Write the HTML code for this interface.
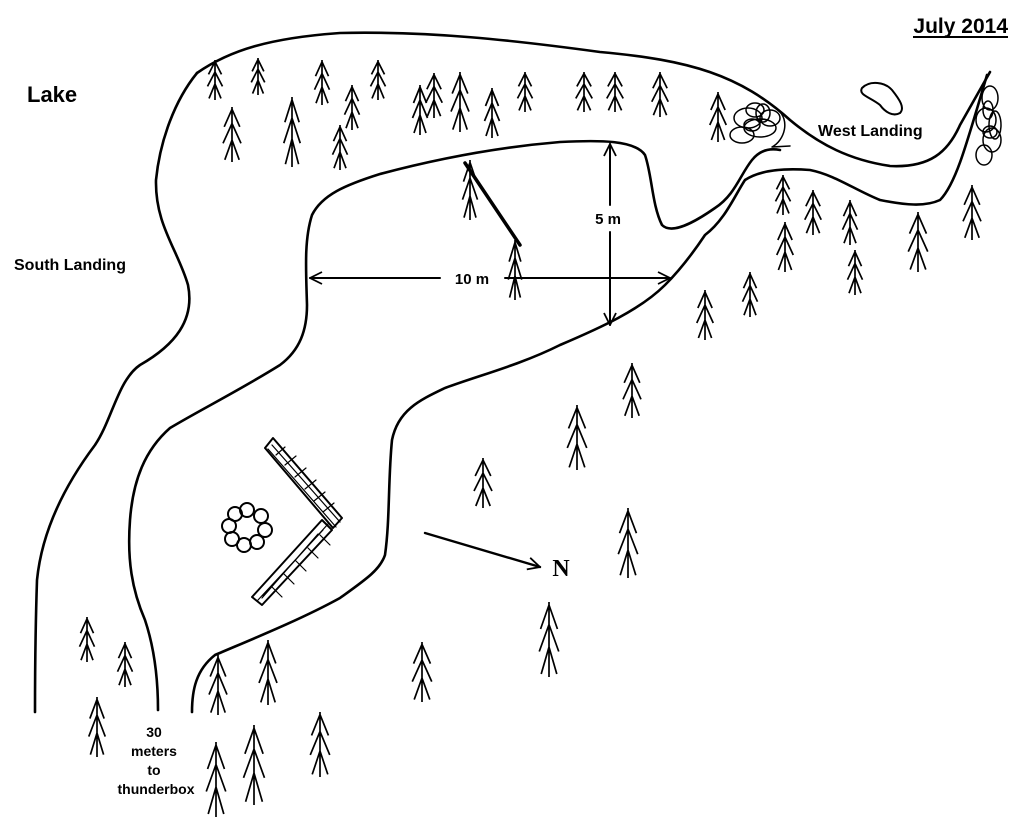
<!DOCTYPE html>
<html><head><meta charset="utf-8"><style>
html,body{margin:0;padding:0;background:#fff;}
svg{display:block}
text{font-family:"Liberation Sans",sans-serif;font-weight:bold;fill:#000}
</style></head><body>
<svg width="1024" height="826" viewBox="0 0 1024 826" xmlns="http://www.w3.org/2000/svg">
<defs>
<symbol id="t" viewBox="0 0 40 100" preserveAspectRatio="none">
<path vector-effect="non-scaling-stroke" fill="none" stroke="#000" stroke-width="1.7" d="M20 0V100M20 4L7 36M20 4L33 36M20 30L5 66M20 30L35 66M20 60L8 96M20 60L32 96"/>
</symbol>
<marker id="a" markerWidth="14" markerHeight="14" refX="13" refY="7" orient="auto" markerUnits="userSpaceOnUse"><path d="M1 1L13 7L1 13" fill="none" stroke="#000" stroke-width="1.8"/></marker>
</defs>
<g fill="none" stroke="#000" stroke-width="2.6" stroke-linecap="round" stroke-linejoin="round">
<path d="M197 73C230 50 270 38 340 33C430 31 512 40 600 52C690 60 740 75 790 120C820 145 850 160 890 166C930 168 948 152 960 125L990 72"/>
<path d="M197 73C175 100 160 140 156 180C155 225 178 250 188 285C195 320 175 345 140 365C118 380 112 420 95 445C65 485 42 530 37 580C35 640 35 680 35 712"/>
<path d="M158 710C158 680 155 650 145 620C132 590 127 560 130 520C133 480 145 450 170 428C200 410 240 390 280 365C300 350 307 330 307 305C306 270 304 240 312 215C322 195 345 185 380 174C440 158 500 147 560 142C600 140 635 140 645 155C652 175 652 205 662 225C672 235 695 222 715 208C735 195 740 175 752 160C760 150 770 148 780 150"/>
<path d="M192 712C192 690 196 670 215 655C250 640 300 620 340 598C365 580 380 570 385 555C390 520 388 480 392 440C398 410 420 400 445 388C480 375 520 365 560 345C600 328 640 310 665 285C680 270 695 250 705 235C725 220 735 195 745 180C760 170 785 168 810 170C835 175 855 190 880 200C905 205 925 207 940 200C955 185 965 150 987 75"/>
<path d="M862 88C870 80 885 82 892 90C900 100 905 108 900 113C893 117 885 112 880 105C870 97 858 95 862 88Z" stroke-width="2"/>
<g stroke-width="1.5">
<ellipse cx="748" cy="118" rx="14" ry="10"/><ellipse cx="760" cy="128" rx="16" ry="9"/><ellipse cx="742" cy="135" rx="12" ry="8"/><ellipse cx="770" cy="118" rx="10" ry="8"/><ellipse cx="755" cy="110" rx="9" ry="7"/><ellipse cx="752" cy="125" rx="8" ry="6"/><ellipse cx="763" cy="113" rx="7" ry="9"/>
<path d="M778 110C790 120 785 140 772 147L790 146"/>
<ellipse cx="990" cy="98" rx="8" ry="12"/><ellipse cx="986" cy="120" rx="10" ry="12"/><ellipse cx="992" cy="140" rx="9" ry="12"/><ellipse cx="984" cy="155" rx="8" ry="10"/><ellipse cx="995" cy="125" rx="6" ry="14"/><ellipse cx="988" cy="110" rx="5" ry="9"/><ellipse cx="990" cy="132" rx="7" ry="6"/>
</g>
<path d="M465 163L520 245" stroke-width="3.5"/>
<path d="M610 205V144" stroke-width="2" marker-end="url(#a)"/>
<path d="M610 232V325" stroke-width="2" marker-end="url(#a)"/>
<path d="M440 278H310" stroke-width="2" marker-end="url(#a)"/>
<path d="M505 278H670" stroke-width="2" marker-end="url(#a)"/>
<path d="M425 533L540 567" stroke-width="2.4" marker-end="url(#a)"/>
<g stroke-width="2">
<path d="M265 448L273 438L342 518L333 528Z"/>
<path d="M322 520L332 530L262 605L252 597Z"/>
<path d="M276 455L285 447M285 465L296 456M295 477L306 468M305 489L316 480M314 501L325 492M323 512L334 503M272 445L340 522M268 449L336 527" stroke-width="1.2"/>
<path d="M320 535L330 545M308 548L318 558M296 561L306 571M284 574L294 584M272 587L282 597M263 596L328 524M258 600L323 530M262 598L318 534" stroke-width="1.2"/>
</g>
<g stroke-width="2">
<circle cx="247" cy="510" r="7"/><circle cx="261" cy="516" r="7"/><circle cx="265" cy="530" r="7"/><circle cx="257" cy="542" r="7"/><circle cx="244" cy="545" r="7"/><circle cx="232" cy="539" r="7"/><circle cx="229" cy="526" r="7"/><circle cx="235" cy="514" r="7"/>
</g>
</g>
<g>
<use href="#t" x="205" y="60" width="20" height="40"/>
<use href="#t" x="249" y="58" width="18" height="37"/>
<use href="#t" x="312" y="60" width="20" height="45"/>
<use href="#t" x="368" y="60" width="20" height="40"/>
<use href="#t" x="342" y="85" width="20" height="45"/>
<use href="#t" x="220" y="107" width="24" height="55"/>
<use href="#t" x="281" y="97" width="22" height="70"/>
<use href="#t" x="330" y="125" width="20" height="45"/>
<use href="#t" x="410" y="85" width="20" height="50"/>
<use href="#t" x="423" y="73" width="22" height="45"/>
<use href="#t" x="448" y="72" width="24" height="60"/>
<use href="#t" x="482" y="88" width="20" height="50"/>
<use href="#t" x="515" y="72" width="20" height="40"/>
<use href="#t" x="573" y="72" width="22" height="40"/>
<use href="#t" x="604" y="72" width="22" height="40"/>
<use href="#t" x="649" y="72" width="22" height="45"/>
<use href="#t" x="707" y="92" width="22" height="50"/>
<use href="#t" x="460" y="160" width="20" height="60"/>
<use href="#t" x="506" y="240" width="18" height="60"/>
<use href="#t" x="773" y="175" width="20" height="40"/>
<use href="#t" x="802" y="190" width="22" height="45"/>
<use href="#t" x="840" y="200" width="20" height="45"/>
<use href="#t" x="774" y="222" width="22" height="50"/>
<use href="#t" x="845" y="250" width="20" height="45"/>
<use href="#t" x="905" y="212" width="26" height="60"/>
<use href="#t" x="960" y="185" width="24" height="55"/>
<use href="#t" x="740" y="272" width="20" height="45"/>
<use href="#t" x="694" y="290" width="22" height="50"/>
<use href="#t" x="620" y="363" width="24" height="55"/>
<use href="#t" x="564" y="405" width="26" height="65"/>
<use href="#t" x="471" y="458" width="24" height="50"/>
<use href="#t" x="615" y="508" width="26" height="70"/>
<use href="#t" x="536" y="602" width="26" height="75"/>
<use href="#t" x="409" y="642" width="26" height="60"/>
<use href="#t" x="77" y="617" width="20" height="45"/>
<use href="#t" x="115" y="642" width="20" height="45"/>
<use href="#t" x="86" y="697" width="22" height="60"/>
<use href="#t" x="206" y="655" width="24" height="60"/>
<use href="#t" x="256" y="640" width="24" height="65"/>
<use href="#t" x="203" y="742" width="26" height="75"/>
<use href="#t" x="240" y="725" width="28" height="80"/>
<use href="#t" x="307" y="712" width="26" height="65"/>
</g>
<text x="27" y="102" font-size="22">Lake</text>
<text x="14" y="270" font-size="16">South Landing</text>
<text x="818" y="136" font-size="16">West Landing</text>
<text x="1008" y="33" font-size="21" text-anchor="end">July 2014</text>
<path d="M913 37H1008" stroke="#000" stroke-width="2"/>
<text x="472" y="284" font-size="15" text-anchor="middle">10 m</text>
<text x="608" y="224" font-size="15" text-anchor="middle">5 m</text>
<text x="561" y="576" font-size="24" text-anchor="middle" style="font-family:'Liberation Serif',serif">N</text>
<g font-size="14" text-anchor="middle">
<text x="154" y="737">30</text>
<text x="154" y="756">meters</text>
<text x="154" y="775">to</text>
<text x="156" y="794">thunderbox</text>
</g>
</svg>
</body></html>
